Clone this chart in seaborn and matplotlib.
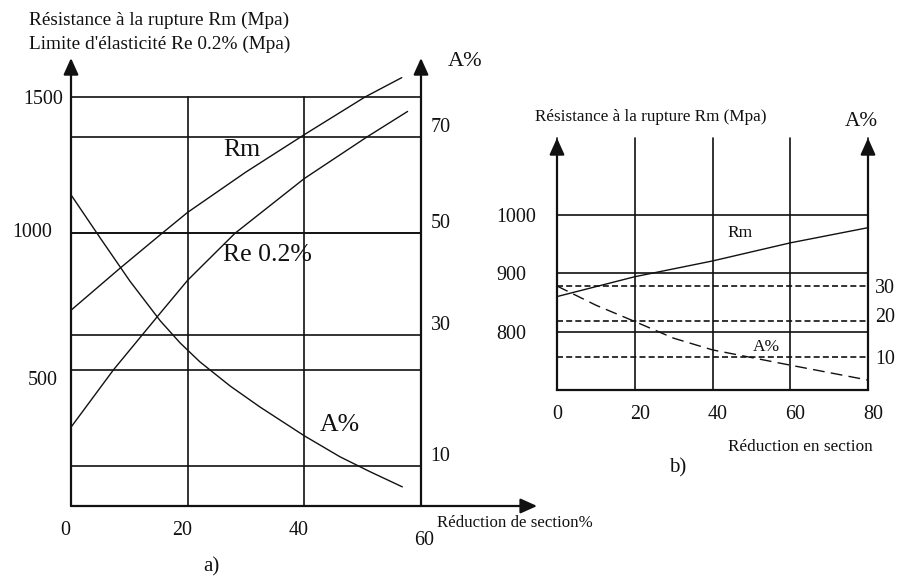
import numpy as np
import pandas as pd
import matplotlib
matplotlib.use("Agg")
import matplotlib.pyplot as plt
from matplotlib.transforms import ScaledTranslation
import seaborn as sns

sns.set_style("white")
plt.rcParams["font.family"] = ["Liberation Serif", "DejaVu Serif"]

# ---------------- data ----------------
# a) strength and elongation versus reduction of section (%)
red_rm_a = [0, 8.4, 15.6, 20, 30, 40, 50.4, 56.7]
rm_a = [718, 872, 1000, 1077, 1225, 1362, 1500, 1571]

red_re_a = [0, 7.3, 14.7, 20, 28.1, 40, 50.7, 57.7]
re_a = [289, 500, 692, 828, 1000, 1201, 1353, 1447]

red_el_a = [0, 5.0, 10.1, 15.3, 18.7, 22.1, 27.3, 32.4, 40.0, 46.1, 51.3, 56.8]
el_a = [58.0, 49.1, 40.6, 32.8, 28.8, 25.9, 22.2, 19.0, 14.6, 11.4, 9.1, 6.8]

mpa_ticks_a = [500, 1000, 1500]
el_ticks_a = [10, 30, 50, 70]
red_ticks_a = [0, 20, 40, 60]

# breakpoints of the (non-uniform) elongation scale of panel a, in MPa equivalents
el_scale_a = [0, 10, 30, 50, 70, 90]
el_scale_mpa = [-93, 147, 627, 1000, 1353, 1706]

# b) strength and elongation versus reduction in section
red_rm_b = [0, 20, 40, 60, 80]
rm_b = [860, 894, 921, 952, 978]

red_el_b = [0, 10, 20, 30, 40, 60, 80]
el_b = [30, 24.6, 20, 15.3, 12, 7.7, 3.5]

mpa_ticks_b = [800, 900, 1000]
el_ticks_b = [10, 20, 30]
red_ticks_b = [0, 20, 40, 60, 80]

df_rm_a = pd.DataFrame({"red": red_rm_a, "val": rm_a})
df_re_a = pd.DataFrame({"red": red_re_a, "val": re_a})
df_el_a = pd.DataFrame({"red": red_el_a, "val": el_a})
df_rm_b = pd.DataFrame({"red": red_rm_b, "val": rm_b})
df_el_b = pd.DataFrame({"red": red_el_b, "val": el_b})

# ---------------- layout helpers ----------------
W, H = 898, 576
fig = plt.figure(figsize=(W / 100, H / 100), dpi=100)


def fx(px):
    return px / W


def fy(py):
    return 1 - py / H


def shift(label, dx, dy):
    label.set_transform(label.get_transform() +
                        ScaledTranslation(dx / 100, -dy / 100, fig.dpi_scale_trans))


INK = "#111111"
GRID_LW = 1.2
CURVE_LW = 1.0
AXIS_LW = 1.6


def axis_arrow(ax, start, end):
    ax.annotate("", xy=end, xytext=start, xycoords="data", textcoords="data",
                annotation_clip=False,
                arrowprops=dict(arrowstyle="-|>,head_length=1.0,head_width=0.45",
                                lw=AXIS_LW, color=INK, shrinkA=0, shrinkB=0,
                                mutation_scale=10))


def unclip_grid(ax):
    for ln in ax.get_xgridlines() + ax.get_ygridlines():
        ln.set_clip_on(False)


def curve(df, ax, **kw):
    sns.lineplot(data=df, x="red", y="val", ax=ax, color=INK, lw=CURVE_LW,
                 sort=True, **kw)
    ax.lines[-1].set_clip_on(False)


def fwd_a(a):
    return np.interp(a, el_scale_a, el_scale_mpa)


def inv_a(m):
    return np.interp(m, el_scale_mpa, el_scale_a)


# ================= panel a =================
ax = fig.add_axes([fx(71), fy(506), (421 - 71) / W, (506 - 97) / H])
ax.set_xlim(0, 60)
ax.set_ylim(0, 1500)
for s in ax.spines.values():
    s.set_visible(False)
ax.set_axisbelow(True)
ax.grid(True, color=INK, lw=GRID_LW)

curve(df_rm_a, ax)
curve(df_re_a, ax)

ax.set_xticks(red_ticks_a)
ax.set_yticks(mpa_ticks_a)
ax.set_xlabel("")
ax.set_ylabel("")
ax.tick_params(axis="x", length=5, width=GRID_LW, color=INK, direction="out",
               pad=5.5, labelsize=14.4, labelcolor=INK)
ax.tick_params(axis="y", length=0, pad=5.8, labelsize=14.4, labelcolor=INK)
ax.xaxis.get_major_ticks()[0].tick1line.set_visible(False)
unclip_grid(ax)

xl = ax.get_xticklabels()
for lab in xl[:-1]:
    shift(lab, -6, 0)
shift(xl[-1], 3, 10)
yl = ax.get_yticklabels()
shift(yl[0], -5, 8)
shift(yl[1], -11, -3)

ax2 = ax.twinx()
ax2.set_yscale("function", functions=(fwd_a, inv_a))
ax2.set_ylim(float(inv_a(0)), float(inv_a(1500)))
for s in ax2.spines.values():
    s.set_visible(False)
ax2.grid(False)
ax2.set_yticks(el_ticks_a)
ax2.yaxis.set_minor_locator(matplotlib.ticker.NullLocator())
ax2.yaxis.grid(True, color=INK, lw=GRID_LW)
curve(df_el_a, ax2)
ax2.set_ylabel("")
ax2.set_xlabel("")
ax2.tick_params(axis="y", length=0, pad=7, labelsize=14.4, labelcolor=INK)
for lab in ax2.get_yticklabels():
    lab.set_verticalalignment("bottom")
unclip_grid(ax2)

# axis lines with arrow heads
axis_arrow(ax, (0, 0), (0, 1643))
axis_arrow(ax, (60, 0), (60, 1643))
axis_arrow(ax, (0, 0), (79.9, 0))

ax.text(29.3, 1305, "Rm", fontsize=18.5, ha="center", va="center", color=INK)
ax.text(33.7, 920, "Re 0.2%", fontsize=18.5, ha="center", va="center", color=INK)
ax.text(46.1, 297, "A%", fontsize=18.5, ha="center", va="center", color=INK)

fig.text(fx(29), fy(20), "Résistance à la rupture Rm (Mpa)", fontsize=13.9,
         ha="left", va="center", color=INK)
fig.text(fx(29), fy(44), "Limite d'élasticité Re 0.2% (Mpa)", fontsize=13.9,
         ha="left", va="center", color=INK)
fig.text(fx(465), fy(61), "A%", fontsize=16, ha="center", va="center", color=INK)
fig.text(fx(437), fy(523), "Réduction de section%", fontsize=12.2,
         ha="left", va="center", color=INK)
fig.text(fx(211), fy(567), "a)", fontsize=15, ha="center", va="center", color=INK)

# ================= panel b =================
bx = fig.add_axes([fx(557), fy(390), (868 - 557) / W, (390 - 138) / H])
bx.set_xlim(0, 80)
bx.set_ylim(700, 1131.6)
for name, s in bx.spines.items():
    s.set_visible(name == "bottom")
bx.spines["bottom"].set_linewidth(AXIS_LW)
bx.spines["bottom"].set_color(INK)
bx.set_axisbelow(True)
bx.grid(True, color=INK, lw=GRID_LW)

curve(df_rm_b, bx)
bx.set_xticks(red_ticks_b)
bx.set_yticks(mpa_ticks_b)
bx.set_xlabel("")
bx.set_ylabel("")
bx.tick_params(axis="x", length=0, pad=10.5, labelsize=14.4, labelcolor=INK)
bx.tick_params(axis="y", length=0, pad=44, labelsize=14.4, labelcolor=INK)
for lab in bx.get_yticklabels():
    lab.set_horizontalalignment("left")
for lab in bx.get_xticklabels()[1:]:
    shift(lab, 5, 0)
unclip_grid(bx)

bx2 = bx.twinx()
bx2.set_ylim(0.7, 71.7)
for s in bx2.spines.values():
    s.set_visible(False)
bx2.grid(False)
bx2.set_yticks(el_ticks_b)
bx2.yaxis.grid(True, color=INK, lw=GRID_LW, linestyle=(0, (3.6, 1.9)))
curve(df_el_b, bx2, linestyle=(0, (8.5, 4.5)))
bx2.set_ylabel("")
bx2.set_xlabel("")
bx2.tick_params(axis="y", length=0, pad=5, labelsize=14.4, labelcolor=INK)
shift(bx2.get_yticklabels()[1], 0, -6)

axis_arrow(bx, (0, 700), (0, 1131.6))
axis_arrow(bx, (80, 700), (80, 1131.6))

bx.text(47.1, 969, "Rm", fontsize=12.5, ha="center", va="center", color=INK)
bx2.text(53.8, 12.8, "A%", fontsize=12.5, ha="center", va="center", color=INK)

fig.text(fx(535), fy(117), "Résistance à la rupture Rm (Mpa)", fontsize=12.35,
         ha="left", va="center", color=INK)
fig.text(fx(861), fy(121), "A%", fontsize=15.3, ha="center", va="center", color=INK)
fig.text(fx(728), fy(447), "Réduction en section", fontsize=12.4,
         ha="left", va="center", color=INK)
fig.text(fx(678), fy(468), "b)", fontsize=15, ha="center", va="center", color=INK)

fig.savefig("out.png", dpi=100, facecolor="white")
